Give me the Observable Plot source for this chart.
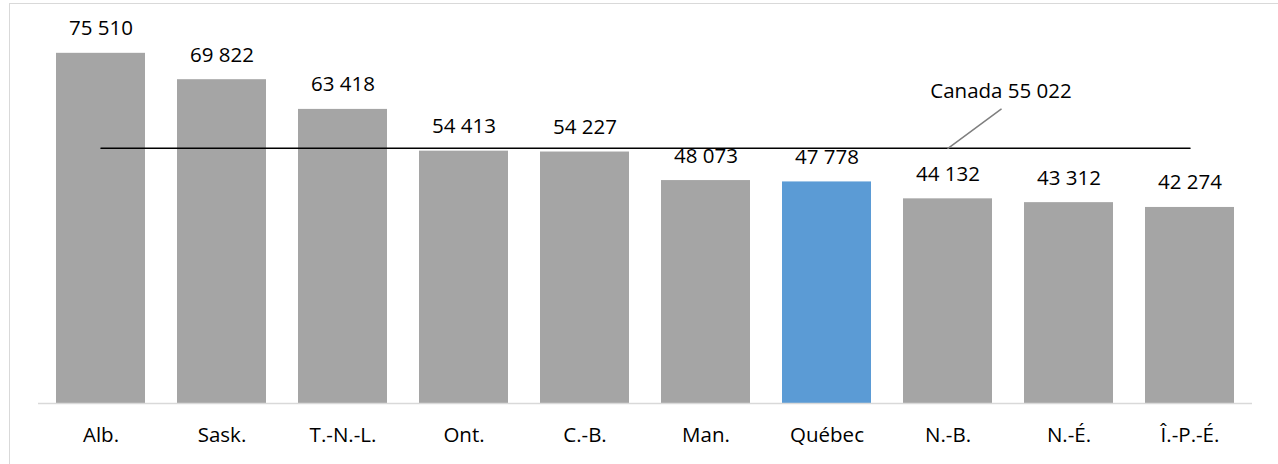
<!DOCTYPE html>
<html>
<head>
<meta charset="utf-8">
<script src="https://cdn.jsdelivr.net/npm/d3@7"></script>
<script src="https://cdn.jsdelivr.net/npm/@observablehq/plot@0.6"></script>
<style>
  html, body { margin: 0; padding: 0; background: #fff; overflow: hidden; }
  #wrap { position: relative; width: 1278px; height: 464px; }
  #frame { position: absolute; left: 9px; top: 3px; width: 1400px; height: 600px;
           border-left: 1.5px solid #d9d9d9; border-top: 1.5px solid #d9d9d9; box-sizing: border-box; }
  #chart { position: absolute; left: 0; top: 0; }
</style>
</head>
<body>
<div id="wrap"><div id="frame"></div><div id="chart"></div></div>
<script>
const provinces = ["Alb.", "Sask.", "T.-N.-L.", "Ont.", "C.-B.", "Man.", "Québec", "N.-B.", "N.-É.", "Î.-P.-É."];
const values = [75510, 69822, 63418, 54413, 54227, 48073, 47778, 44132, 43312, 42274];
const highlight = "Québec";
const canadaLabel = "Canada";
const canadaValue = 55022;

const fmt = d3.formatLocale({thousands: " ", grouping: [3], decimal: ","}).format(",d");
const data = provinces.map((p, i) => ({province: p, value: values[i]}));
const canadaLine = [{province: provinces[0], value: canadaValue}, {province: provinces[provinces.length - 1], value: canadaValue}];
const anchor = [{province: "N.-B.", value: canadaValue}];

const chart = Plot.plot({
  width: 1278,
  height: 464,
  marginLeft: 38,
  marginRight: 26,
  marginTop: 32,
  marginBottom: 61,
  style: {fontFamily: "'Open Sans', sans-serif", fontSize: "20.5px", color: "#000", background: "transparent"},
  x: {domain: provinces, paddingInner: 0.267, paddingOuter: 0.1335, label: null, tickSize: 0, tickPadding: 24},
  y: {domain: [0, 80000], axis: null},
  marks: [
    Plot.barY(data, {x: "province", y: "value", fill: d => d.province === highlight ? "#5B9BD5" : "#A5A5A5"}),
    Plot.ruleY([0], {stroke: "#d9d9d9", strokeWidth: 1.5}),
    Plot.text(data, {x: "province", y: "value", text: d => fmt(d.value), lineAnchor: "bottom", dy: -18, fill: "#000"}),
    Plot.line(canadaLine, {x: "province", y: "value", stroke: "#000", strokeWidth: 1.5}),
    Plot.vector(anchor, {x: "province", y: "value", length: 66, rotate: 53.6, anchor: "start", r: 0, stroke: "#7f7f7f", strokeWidth: 1.5}),
    Plot.text(anchor, {x: "province", y: "value", text: d => canadaLabel + " " + fmt(d.value), lineAnchor: "bottom", dx: 53, dy: -50, fill: "#000"})
  ]
});
document.getElementById("chart").appendChild(chart);
</script>
</body>
</html>
